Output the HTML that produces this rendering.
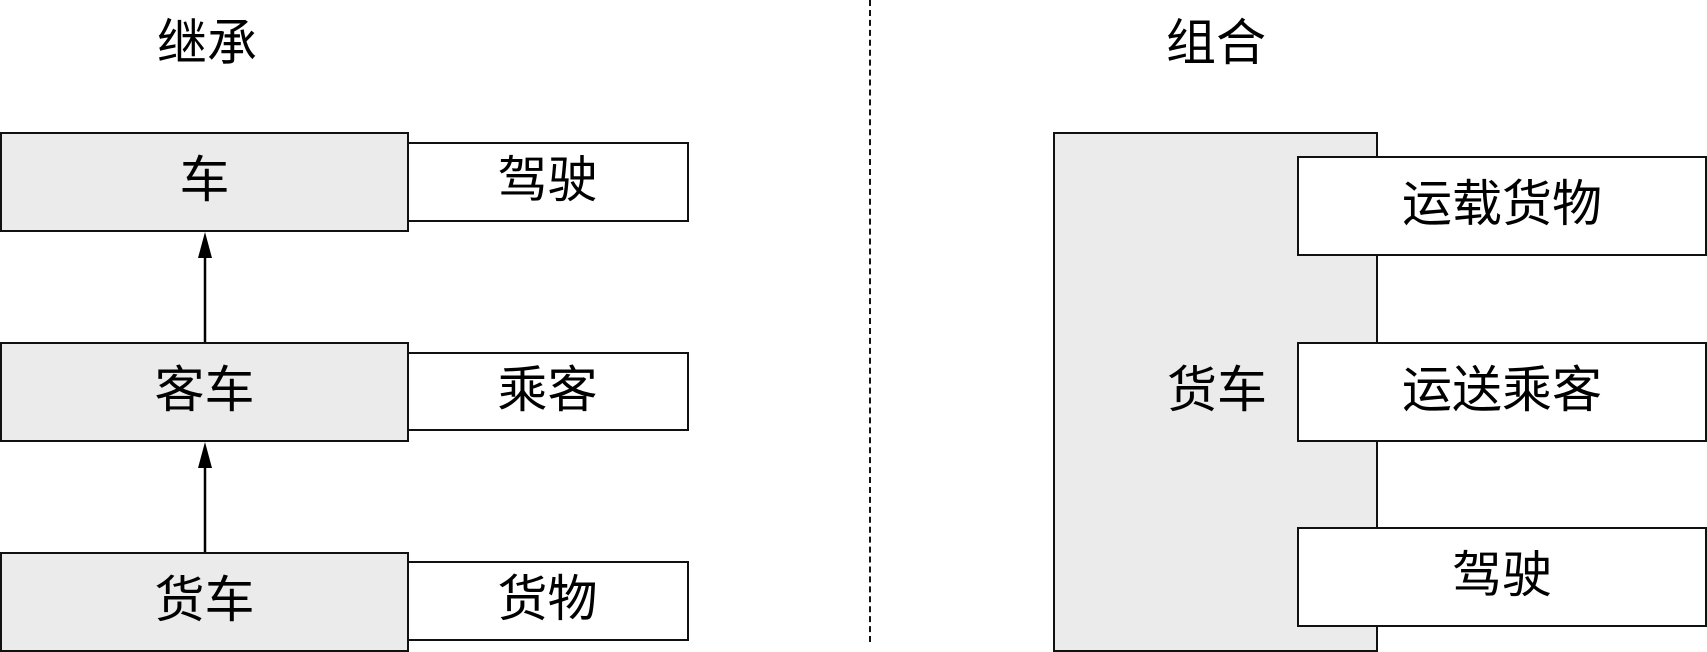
<!DOCTYPE html>
<html><head><meta charset="utf-8"><style>
body{margin:0;width:1707px;height:652px;background:#fff;position:relative;overflow:hidden;font-family:"Liberation Sans","Noto Sans CJK SC",sans-serif;}
.b{position:absolute;box-sizing:border-box;border:2.5px solid #111;display:flex;align-items:center;justify-content:center;font-size:50px;line-height:1;padding-bottom:4px;color:#000;}
.g{background:#ebebeb;}
.w{background:#fff;}
.t{position:absolute;font-size:50px;line-height:1;}
</style></head><body>
<div class="t" style="left:157px;top:18px">继承</div>
<div class="t" style="left:1166px;top:18px">组合</div>
<div style="position:absolute;left:869px;top:0;height:642px;border-left:2px dashed #111"></div>

<div class="b w" style="left:406px;top:142px;width:283px;height:80px">驾驶</div>
<div class="b g" style="left:0;top:132px;width:409px;height:100px">车</div>
<div class="b w" style="left:406px;top:352px;width:283px;height:79px">乘客</div>
<div class="b g" style="left:0;top:342px;width:409px;height:100px">客车</div>
<div class="b w" style="left:406px;top:561px;width:283px;height:80px">货物</div>
<div class="b g" style="left:0;top:552px;width:409px;height:100px">货车</div>
<svg style="position:absolute;left:0;top:0" width="1707" height="652">
<line x1="205" y1="342" x2="205" y2="255" stroke="#000" stroke-width="2.5"/>
<polygon points="205,232 198,258 212,258" fill="#000"/>
<line x1="205" y1="552" x2="205" y2="465" stroke="#000" stroke-width="2.5"/>
<polygon points="205,442 198,468 212,468" fill="#000"/>
</svg>

<div class="b g" style="left:1053px;top:132px;width:325px;height:520px;justify-content:flex-start;padding-left:112px">货车</div>
<div class="b w" style="left:1297px;top:156px;width:410px;height:100px">运载货物</div>
<div class="b w" style="left:1297px;top:342px;width:410px;height:100px">运送乘客</div>
<div class="b w" style="left:1297px;top:527px;width:410px;height:100px">驾驶</div>
</body></html>
